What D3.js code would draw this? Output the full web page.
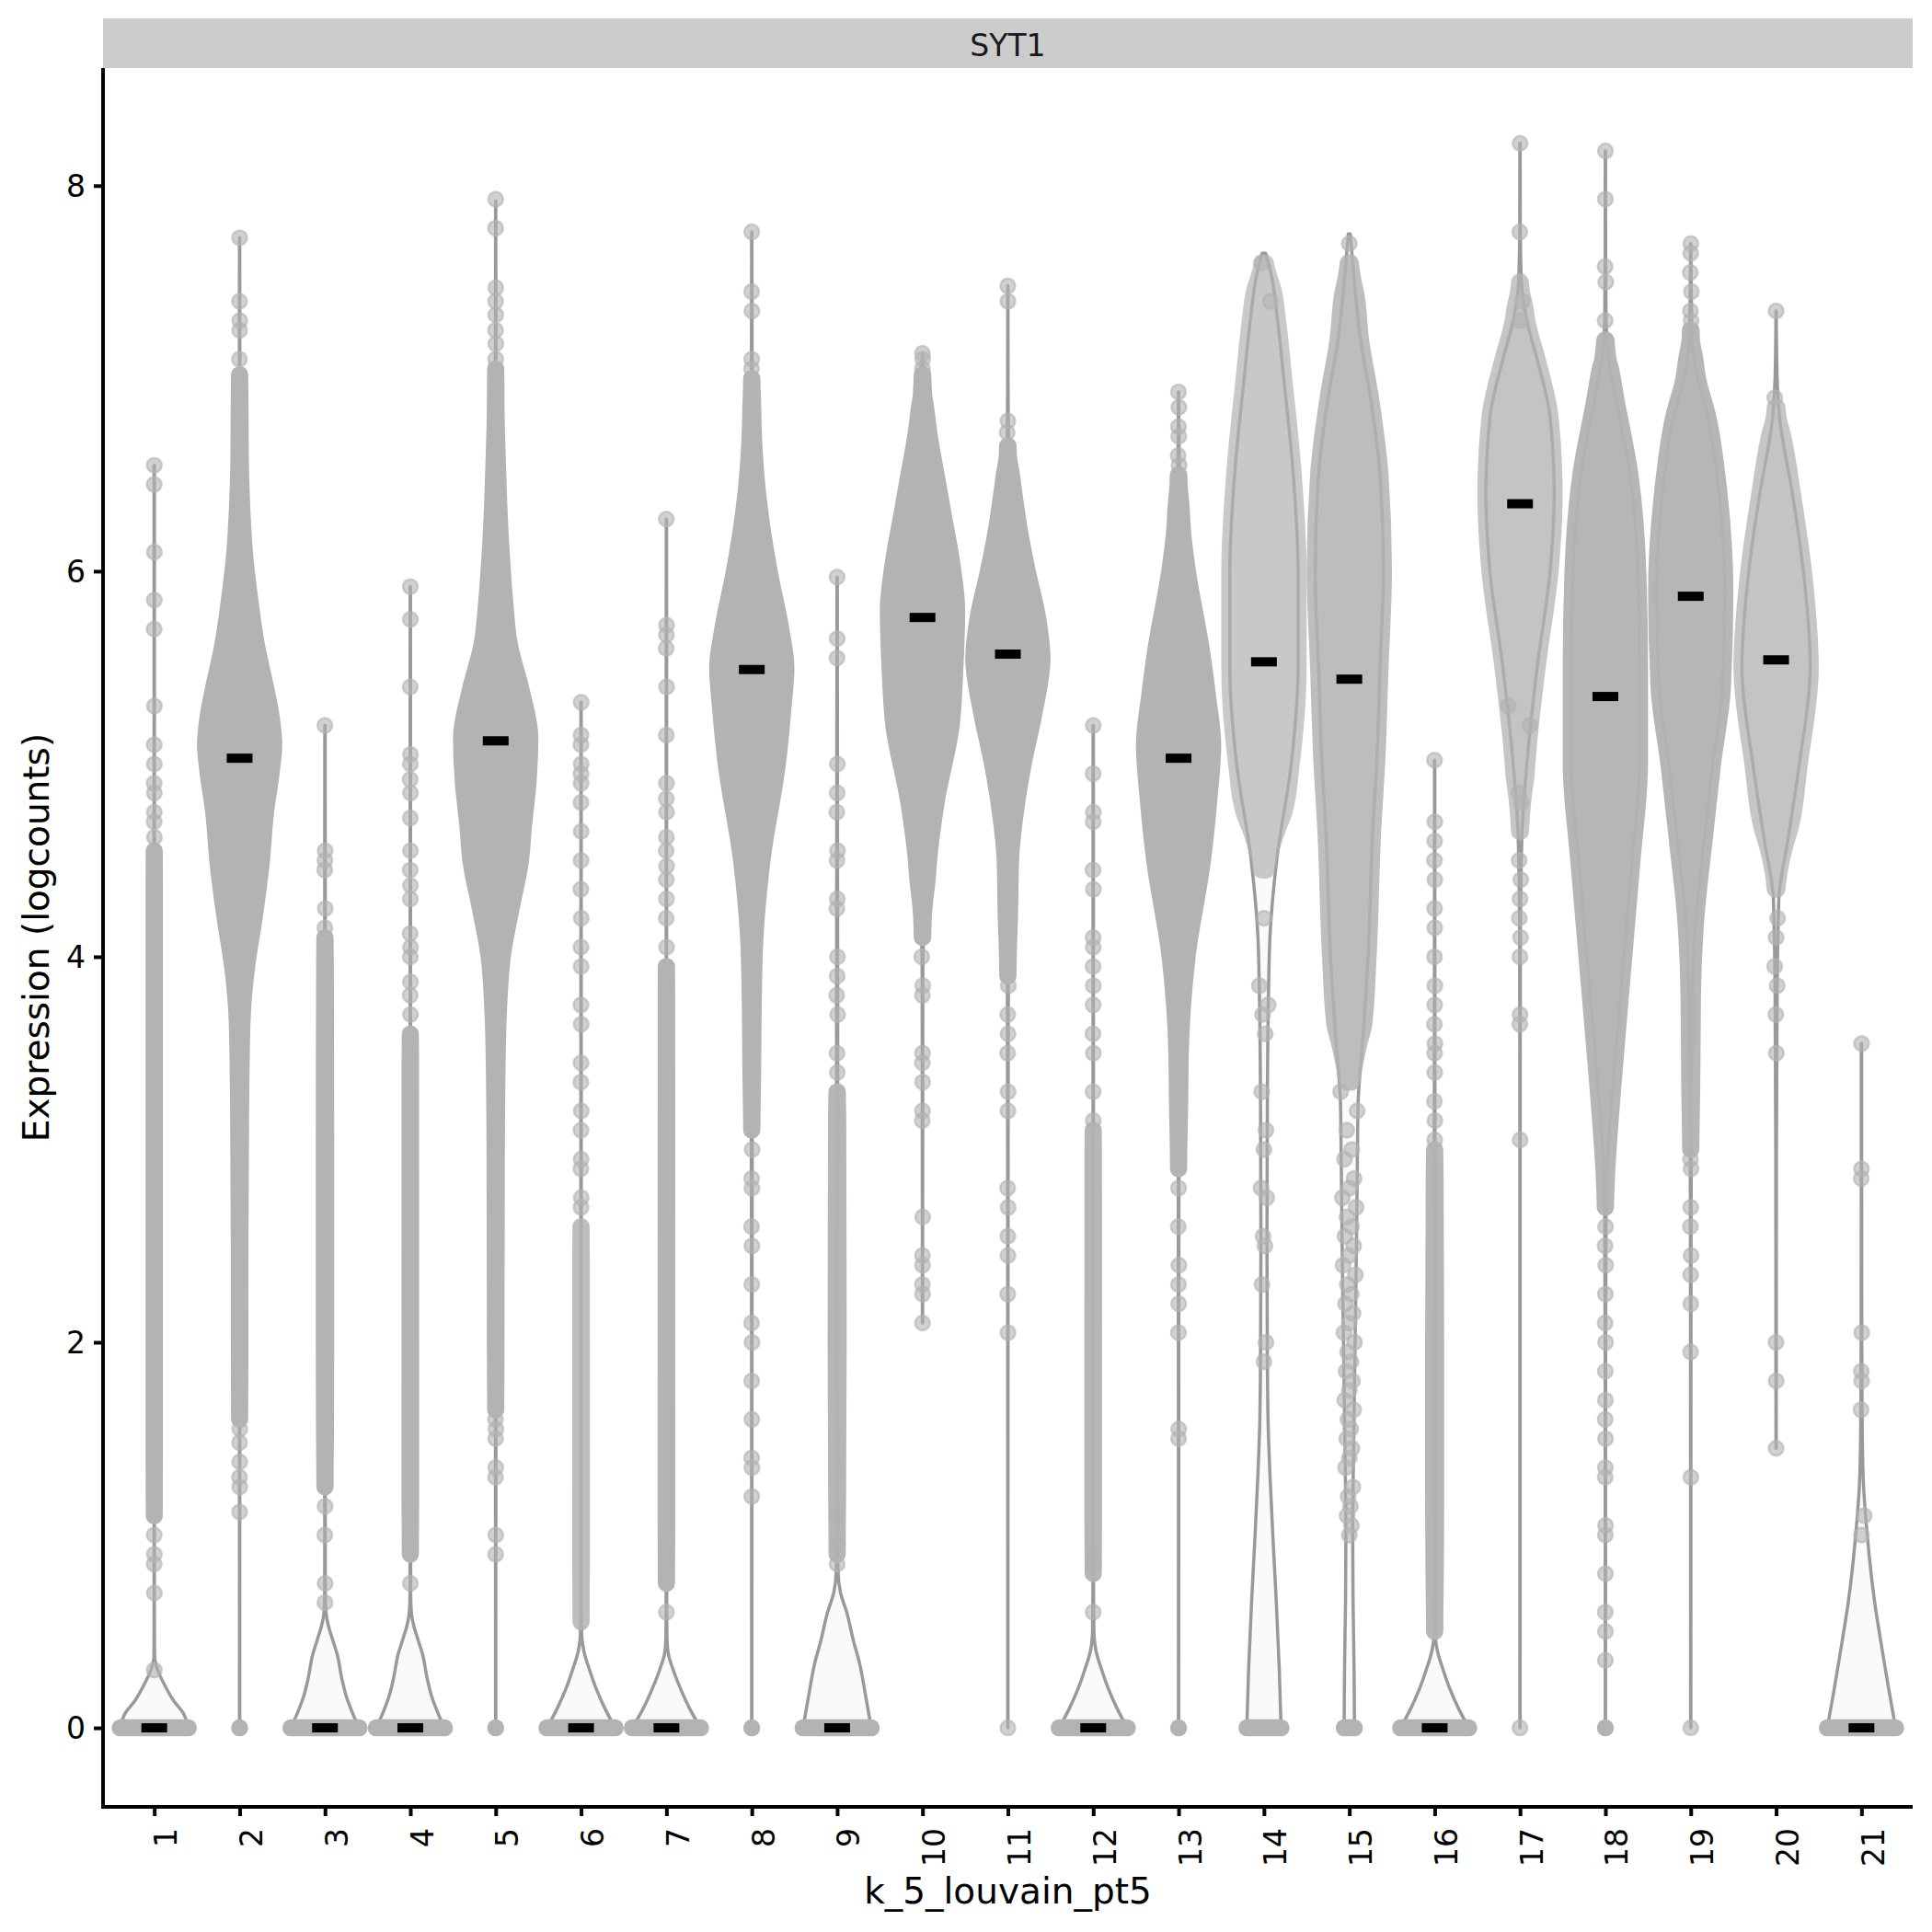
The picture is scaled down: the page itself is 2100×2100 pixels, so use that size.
<!DOCTYPE html>
<html><head><meta charset="utf-8">
<script src="https://cdn.jsdelivr.net/npm/d3@7"></script>
<style>body{margin:0;background:#fff;} svg{display:block;font-family:"DejaVu Sans",sans-serif;}</style>
</head><body><svg id="chart" width="2100" height="2100"></svg>
<script>
// ---------- data ----------
const clusters = ["1","2","3","4","5","6","7","8","9","10","11","12","13","14","15","16","17","18","19","20","21"];
const yTicks = [0, 2, 4, 6, 8];
const geneName = "SYT1";
const xTitle = "k_5_louvain_pt5";
const yTitle = "Expression (logcounts)";

// median expression per cluster
const medians = [0, 5.03, 0, 0, 5.12, 0, 0, 5.49, 0, 5.76, 5.57, 0, 5.03, 5.53, 5.44, 0, 6.35, 5.35, 5.87, 5.54, 0];

// spread of the many cells at exactly zero (relative width), null = none
const zeroWidth = [1, 0, 1, 1, 0, 1, 1, 0, 1, null, null, 1, 0, 0.5, 0.15, 1, null, 0, null, null, 1];

// range of expression where cells are so dense they form a solid cloud
const cloudRange = [[1.1,4.55],[1.6,7.02],[1.25,4.1],[0.9,3.6],[1.65,7.05],[0.55,2.6],[0.75,3.95],
  [3.1,7.0],[0.9,3.3],[4.1,7.02],[3.9,6.65],[0.8,3.1],[2.9,6.5],[4.45,7.6],[3.35,7.6],[0.5,3.0],
  [4.65,7.5],[2.7,7.2],[3.0,7.25],[4.35,6.85],null];
const cloudOpacity = [1,1,1,1,1,0.85,1,1,0.95,1,1,0.95,1,0.7,0.85,0.95,0.75,0.95,0.95,0.75,1];

// violin density profiles: [expression, relative width]
const profiles = [
  [[0,1],[0.076,0.85],[0.14,0.57],[0.22,0.31],[0.3,0.1],[0.37,0.01],[0.6,0.005],[6.55,0.005]],
  [[0,0.004],[1.1,0.005],[2.5,0.01],[3.2,0.03],[3.66,0.07],[3.98,0.23],[4.17,0.4],[4.5,0.64],[4.75,0.76],[4.95,0.92],[5.1,1.0],[5.25,0.92],[5.38,0.78],[5.62,0.49],[5.85,0.3],[6.1,0.14],[6.35,0.06],[6.6,0.02],[7.0,0.008],[7.73,0.004]],
  [[0,1],[0.08,0.8],[0.16,0.63],[0.25,0.5],[0.38,0.36],[0.46,0.22],[0.53,0.1],[0.6,0.03],[0.7,0.01],[1.0,0.008],[2.0,0.02],[3.0,0.02],[4.0,0.01],[5.2,0.005]],
  [[0,1],[0.08,0.8],[0.16,0.63],[0.25,0.5],[0.38,0.36],[0.46,0.22],[0.53,0.1],[0.6,0.03],[0.7,0.01],[5.92,0.005]],
  [[0,0.004],[0.9,0.005],[2.0,0.01],[3.0,0.02],[3.53,0.05],[3.98,0.18],[4.25,0.45],[4.49,0.72],[4.67,0.81],[4.91,0.95],[5.14,1.0],[5.38,0.75],[5.62,0.4],[5.85,0.26],[6.1,0.16],[6.35,0.09],[6.57,0.05],[6.85,0.01],[7.3,0.006],[7.92,0.004]],
  [[0,1],[0.1,0.7],[0.2,0.45],[0.3,0.25],[0.4,0.08],[0.48,0.02],[0.6,0.01],[5.32,0.005]],
  [[0,1],[0.1,0.68],[0.2,0.42],[0.3,0.2],[0.38,0.06],[0.45,0.02],[0.6,0.01],[6.27,0.005]],
  [[0,0.004],[1.2,0.005],[2.5,0.008],[3.1,0.015],[3.5,0.03],[4.0,0.07],[4.5,0.3],[5.0,0.75],[5.3,0.92],[5.5,1.0],[5.7,0.85],[6.0,0.51],[6.25,0.28],[6.5,0.12],[6.75,0.04],[7.0,0.01],[7.76,0.004]],
  [[0,1],[0.15,0.85],[0.34,0.65],[0.45,0.48],[0.6,0.28],[0.7,0.1],[0.8,0.03],[1.0,0.01],[2.0,0.03],[3.0,0.02],[5.97,0.005]],
  [[2.1,0.004],[3.0,0.006],[3.9,0.01],[4.2,0.05],[4.5,0.18],[4.8,0.4],[5.2,0.84],[5.5,0.95],[5.8,1.0],[6.05,0.85],[6.3,0.6],[6.5,0.4],[6.7,0.2],[6.9,0.05],[7.13,0.004]],
  [[0,0.004],[2.0,0.005],[3.0,0.008],[3.9,0.015],[4.5,0.08],[4.75,0.22],[5.0,0.45],[5.25,0.75],[5.55,1.0],[5.75,0.88],[6.0,0.57],[6.2,0.35],[6.4,0.18],[6.6,0.03],[7.0,0.006],[7.48,0.004]],
  [[0,1],[0.1,0.7],[0.2,0.45],[0.3,0.25],[0.4,0.08],[0.5,0.02],[0.7,0.01],[5.2,0.005]],
  [[0,0.004],[1.5,0.005],[2.9,0.01],[3.5,0.05],[4.0,0.25],[4.5,0.7],[4.8,0.88],[5.1,1.0],[5.35,0.85],[5.6,0.66],[6.0,0.26],[6.2,0.12],[6.45,0.03],[6.93,0.004]],
  [[0,0.5],[0.3,0.45],[0.66,0.36],[1.0,0.26],[1.3,0.18],[1.6,0.12],[1.94,0.1],[2.5,0.09],[3.24,0.1],[4.03,0.16],[4.51,0.38],[5.0,0.8],[5.5,1.0],[6.0,1.0],[6.5,0.86],[7.0,0.58],[7.3,0.4],[7.55,0.2],[7.65,0.05]],
  [[0,0.15],[0.3,0.14],[0.66,0.11],[1.0,0.1],[1.5,0.13],[2.0,0.17],[2.5,0.21],[3.0,0.24],[3.25,0.26],[3.56,0.39],[4.0,0.55],[4.67,0.69],[5.0,0.8],[5.5,0.9],[6.0,1.0],[6.5,0.9],[6.9,0.62],[7.2,0.33],[7.5,0.15],[7.75,0.03]],
  [[0,1],[0.1,0.7],[0.2,0.45],[0.3,0.25],[0.4,0.08],[0.48,0.02],[0.6,0.015],[1.2,0.03],[2.0,0.03],[3.0,0.01],[5.02,0.005]],
  [[0,0.004],[3.0,0.005],[4.0,0.01],[4.6,0.05],[5.0,0.2],[5.5,0.5],[6.0,0.88],[6.4,1.0],[6.8,0.88],[7.1,0.5],[7.3,0.2],[7.5,0.04],[7.8,0.008],[8.22,0.004]],
  [[0,0.004],[1.0,0.005],[2.0,0.008],[2.7,0.02],[3.0,0.08],[3.5,0.3],[4.0,0.54],[4.5,0.78],[5.0,1.0],[5.5,1.0],[6.0,0.95],[6.5,0.72],[6.9,0.3],[7.1,0.1],[7.3,0.02],[7.6,0.008],[8.18,0.004]],
  [[0,0.004],[1.3,0.005],[2.2,0.008],[3.0,0.015],[3.8,0.05],[4.2,0.15],[4.6,0.39],[5.0,0.64],[5.4,0.93],[5.9,1.0],[6.4,0.83],[6.8,0.5],[7.0,0.2],[7.2,0.04],[7.7,0.004]],
  [[1.45,0.004],[2.0,0.006],[3.0,0.01],[3.8,0.03],[4.3,0.08],[4.6,0.34],[5.0,0.68],[5.5,1.0],[6.0,0.8],[6.4,0.48],[6.8,0.1],[7.0,0.03],[7.35,0.004]],
  [[0,1],[0.2,0.8],[0.38,0.63],[0.66,0.38],[0.98,0.18],[1.3,0.05],[1.6,0.02],[2.0,0.01],[3.55,0.005]]
];

// individual (sparse) cells outside the solid clouds
const points = [
  [0.3,0.7,0.85,0.9,1.0,4.62,4.7,4.75,4.85,4.9,5.0,5.1,5.3,5.7,5.85,6.1,6.45,6.55],
  [1.12,1.25,1.3,1.38,1.48,1.55,7.1,7.25,7.3,7.4,7.73],
  [0.65,0.75,1.0,1.15,4.15,4.25,4.45,4.5,4.55,5.2],
  [0.75,3.7,3.8,3.87,4.0,4.05,4.12,4.3,4.37,4.45,4.55,4.72,4.85,4.92,5.0,5.05,5.4,5.75,5.92],
  [0.9,1.0,1.3,1.35,1.5,1.55,1.6,7.1,7.18,7.25,7.33,7.4,7.47,7.78,7.93],
  [2.7,2.75,2.9,2.95,3.1,3.2,3.35,3.45,3.65,3.75,3.95,4.05,4.2,4.35,4.5,4.65,4.8,4.9,4.95,5.0,5.1,5.15,5.32],
  [0.6,4.05,4.2,4.3,4.4,4.47,4.55,4.62,4.75,4.82,4.9,5.15,5.4,5.6,5.67,5.72,6.27],
  [1.2,1.35,1.4,1.6,1.8,2.0,2.1,2.3,2.5,2.6,2.8,2.85,3.0,7.05,7.1,7.35,7.45,7.76],
  [0.85,0.95,1.1,3.4,3.5,3.7,3.8,3.9,4.0,4.25,4.3,4.5,4.55,4.75,4.85,5.0,5.55,5.65,5.97],
  [2.1,2.25,2.3,2.4,2.45,2.65,3.15,3.2,3.35,3.45,3.5,3.8,3.85,4.0,7.05,7.1,7.13],
  [0,2.05,2.25,2.45,2.55,2.7,2.8,3.2,3.3,3.5,3.6,3.7,3.85,6.72,6.78,7.4,7.48],
  [0.6,0.85,0.9,3.15,3.3,3.5,3.6,3.75,3.85,3.95,4.05,4.1,4.35,4.45,4.7,4.75,4.95,5.2],
  [1.5,1.55,2.05,2.2,2.3,2.4,2.6,2.8,6.55,6.6,6.7,6.75,6.85,6.93],
  [1.9,2.0,2.3,2.5,2.55,2.75,2.8,3.0,3.1,3.3,3.6,3.7,3.75,3.85,4.2,7.4,7.6],
  [1.0,1.05,1.1,1.15,1.2,1.25,1.35,1.4,1.45,1.5,1.55,1.6,1.65,1.7,1.75,1.8,1.85,1.9,1.95,2.0,2.05,2.1,2.15,2.2,2.25,2.3,2.35,2.4,2.45,2.5,2.55,2.6,2.65,2.7,2.75,2.8,2.85,2.95,3.0,3.1,3.2,3.3,7.7],
  [3.05,3.15,3.25,3.4,3.5,3.55,3.65,3.75,3.85,4.0,4.15,4.25,4.4,4.5,4.6,4.7,5.02],
  [0,3.05,3.65,3.7,4.0,4.1,4.2,4.3,4.4,4.5,4.8,4.85,5.2,5.3,7.3,7.4,7.76,8.22],
  [0.35,0.5,0.6,0.8,1.0,1.05,1.3,1.35,1.5,1.6,1.7,1.85,2.0,2.1,2.25,2.4,2.5,2.6,7.3,7.5,7.58,7.93,8.18],
  [0,1.3,1.95,2.2,2.35,2.45,2.6,2.7,2.9,2.95,7.3,7.35,7.45,7.55,7.65,7.7],
  [1.45,1.8,2.0,3.5,3.7,3.85,3.95,4.1,4.2,6.9,7.35],
  [1.0,1.1,1.65,1.8,1.85,2.05,2.85,2.9,3.55]
];

// ---------- drawing ----------
const panel = {left:112, right:2079, top:74, bottom:1964};
const svg = d3.select("#chart");
svg.append("rect").attr("width",2100).attr("height",2100).attr("fill","#ffffff");

const y = d3.scaleLinear().domain([-0.41, 8.61]).range([panel.bottom, panel.top]);
const x = d3.scalePoint().domain(clusters).range([panel.left, panel.right]).padding(0.6);
const half = 0.4 * x.step();
const R = 8, SW = 2.5, CLOUD_W = 2 * R + SW;
const PT = "#b3b3b3";

function wAt(prof, v) {
  if (v <= prof[0][0]) return prof[0][1];
  for (let i = 1; i < prof.length; i++) {
    if (v <= prof[i][0]) {
      const a = prof[i-1], b = prof[i];
      return a[1] + (b[1]-a[1]) * (v - a[0]) / (b[0] - a[0]);
    }
  }
  return prof[prof.length-1][1];
}

function areaFor(cx) {
  return d3.area()
    .y(d => y(d[0]))
    .x0(d => cx - d[1] * half)
    .x1(d => cx + d[1] * half)
    .curve(d3.curveMonotoneY);
}

// strip
svg.append("rect").attr("x", panel.left).attr("y", 20)
  .attr("width", panel.right - panel.left).attr("height", panel.top - 20)
  .attr("fill", "#cccccc");
svg.append("text").attr("x", (panel.left + panel.right) / 2).attr("y", 61)
  .attr("text-anchor", "middle").attr("font-size", 33).attr("fill", "#1a1a1a").text(geneName);

const gV = svg.append("g");
const gC = svg.append("g");
const gZ = svg.append("g");
const gP = svg.append("g");
const gM = svg.append("g");

clusters.forEach((c, i) => {
  const cx = x(c);
  const prof = profiles[i];
  // violin
  gV.append("path")
    .attr("d", areaFor(cx)(prof.slice().reverse()))
    .attr("fill", "#fafafa").attr("stroke", "#999999")
    .attr("stroke-width", 3.5).attr("stroke-linejoin", "round");
  // dense cloud (tapered where the cells thin out)
  const cr = cloudRange[i];
  if (cr) {
    const lo = cr[0], hi = cr[1];
    const ys = [lo, lo + 0.08, lo + 0.18, lo + 0.3, hi - 0.15, hi - 0.05, hi]
      .concat(prof.map(p => p[0]))
      .filter(v => v >= lo && v <= hi);
    const uniq = Array.from(new Set(ys.map(v => +v.toFixed(4)))).sort((a, b) => a - b);
    const pts = uniq.map(v => {
      const ramp = Math.min(1, 0.2 + 0.8 * (v - lo) / 0.3, 0.3 + 0.7 * (hi - v) / 0.15);
      return [v, wAt(prof, v) * Math.max(0, ramp)];
    });
    gC.append("path")
      .attr("d", areaFor(cx)(pts.reverse()))
      .attr("fill", PT).attr("stroke", PT)
      .attr("stroke-width", CLOUD_W).attr("stroke-linejoin", "round")
      .attr("opacity", cloudOpacity[i]);
  }
  // zeros
  const zw = zeroWidth[i];
  if (zw !== null) {
    gZ.append("line")
      .attr("x1", cx - zw * half).attr("x2", cx + zw * half + 0.01)
      .attr("y1", y(0)).attr("y2", y(0))
      .attr("stroke", PT).attr("stroke-width", CLOUD_W).attr("stroke-linecap", "round");
  }
  // sparse points
  const offs = [0, 0.6, -0.6, 0.3, -0.3, 0.9, -0.9];
  gP.selectAll(null).data(points[i]).enter().append("circle")
    .attr("cx", (v, k) => cx + offs[k % offs.length] * wAt(prof, v) * half)
    .attr("cy", v => y(v))
    .attr("r", R)
    .attr("fill", PT).attr("fill-opacity", 0.6)
    .attr("stroke", PT).attr("stroke-opacity", 0.6).attr("stroke-width", SW);
  // median
  gM.append("rect")
    .attr("x", cx - 14).attr("y", y(medians[i]) - 5)
    .attr("width", 28).attr("height", 10).attr("fill", "#000000");
});

// axes
const yAxis = svg.append("g").attr("transform", `translate(${panel.left},0)`)
  .call(d3.axisLeft(y).tickValues(yTicks).tickSize(10).tickSizeOuter(0).tickPadding(9));
yAxis.select(".domain").remove();
yAxis.selectAll(".tick line").attr("stroke", "#000").attr("stroke-width", 4);
yAxis.selectAll(".tick text").attr("font-size", 33).attr("fill", "#000")
  .attr("font-family", "DejaVu Sans").attr("dy", "0.36em");

const xAxis = svg.append("g").attr("transform", `translate(0,${panel.bottom})`)
  .call(d3.axisBottom(x).tickSize(10).tickSizeOuter(0));
xAxis.select(".domain").remove();
xAxis.selectAll(".tick line").attr("stroke", "#000").attr("stroke-width", 4);
xAxis.selectAll(".tick text").attr("font-size", 33).attr("fill", "#000")
  .attr("font-family", "DejaVu Sans")
  .attr("transform", "rotate(-90)").attr("text-anchor", "end")
  .attr("x", -23).attr("y", 24).attr("dy", 0);

svg.append("line").attr("x1", panel.left).attr("x2", panel.left)
  .attr("y1", panel.top).attr("y2", panel.bottom + 2)
  .attr("stroke", "#000").attr("stroke-width", 4);
svg.append("line").attr("x1", panel.left - 2).attr("x2", panel.right)
  .attr("y1", panel.bottom).attr("y2", panel.bottom)
  .attr("stroke", "#000").attr("stroke-width", 4);

// titles
svg.append("text").attr("x", (panel.left + panel.right) / 2).attr("y", 2069)
  .attr("text-anchor", "middle").attr("font-size", 39).attr("fill", "#000").text(xTitle);
svg.append("text").attr("transform", `translate(53,${(panel.top + panel.bottom) / 2}) rotate(-90)`)
  .attr("text-anchor", "middle").attr("font-size", 39).attr("fill", "#000").text(yTitle);
</script>
</body></html>
